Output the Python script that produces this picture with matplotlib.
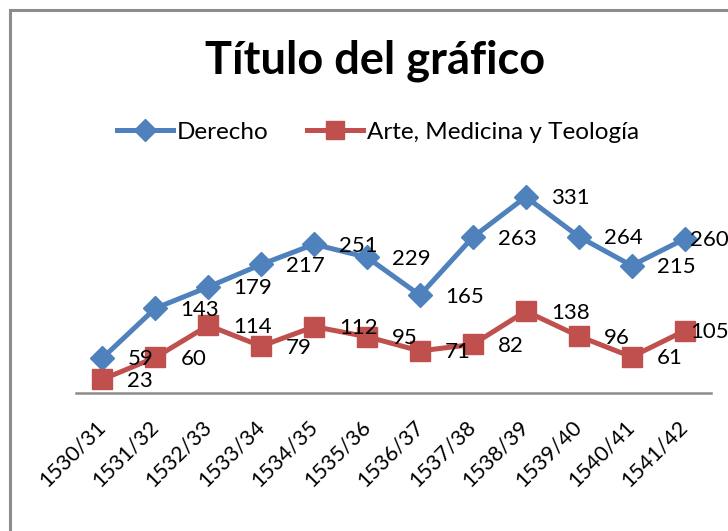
import matplotlib
matplotlib.use("Agg")
import matplotlib.pyplot as plt
from matplotlib.patches import Rectangle

plt.rcParams['font.family'] = ['Lato', 'DejaVu Sans']

categories = ["1530/31", "1531/32", "1532/33", "1533/34", "1534/35", "1535/36",
              "1536/37", "1537/38", "1538/39", "1539/40", "1540/41", "1541/42"]
derecho = [59, 143, 179, 217, 251, 229, 165, 263, 331, 264, 215, 260]
arte = [23, 60, 114, 79, 112, 95, 71, 82, 138, 96, 61, 105]

title = "Título del gráfico"
series_names = ["Derecho", "Arte, Medicina y Teología"]

BLUE = "#4F81BD"
RED = "#C0504D"
GRAY = "#8C8C8C"

W, H = 728, 531
fig = plt.figure(figsize=(W / 100, H / 100), dpi=100)

# chart frame (runs off the right and bottom edges)
fig.patches.append(Rectangle((10 / W, -0.05), 1.2, (H - 10) / H + 0.05,
                             transform=fig.transFigure, fill=False,
                             edgecolor=GRAY, linewidth=2.2, zorder=0))

ax_left, ax_right = 76 / W, 711 / W
ax_bottom = (H - 393) / H
ax_top = (H - 156) / H
ax = fig.add_axes([ax_left, ax_bottom, ax_right - ax_left, ax_top - ax_bottom])
ax.set_facecolor("none")

x = list(range(len(categories)))
l1, = ax.plot(x, derecho, color=BLUE, linewidth=3.6, marker="D",
              markersize=12, markeredgecolor=BLUE, label=series_names[0],
              clip_on=False, zorder=3)
l2, = ax.plot(x, arte, color=RED, linewidth=3.6, marker="s",
              markersize=14, markeredgecolor=RED, label=series_names[1],
              clip_on=False, zorder=3)

ax.set_xlim(-0.5, len(categories) - 0.5)
ax.set_ylim(0, 400)

for spine in ["top", "left", "right"]:
    ax.spines[spine].set_visible(False)
ax.spines["bottom"].set_color(GRAY)
ax.spines["bottom"].set_linewidth(1.8)
ax.set_yticks([])
ax.set_xticks(x)
ax.set_xticklabels(categories, rotation=45, ha="right", va="center",
                   rotation_mode="anchor", fontsize=15.5)
ax.tick_params(axis="x", length=0, pad=22)

# value labels to the right of each marker
for series in (derecho, arte):
    for i, v in enumerate(series):
        dx = 4 if i == len(series) - 1 else 18
        ax.annotate(str(v), (i, v), xytext=(dx, -1), textcoords="offset points",
                    ha="left", va="center", fontsize=16, color="black",
                    annotation_clip=False, zorder=4)

fig.text(375 / W, 1 - 61 / H, title, ha="center", va="center",
         fontsize=32.5, fontweight="bold")

fig.legend(handles=[l1, l2], labels=series_names, loc="center",
           bbox_to_anchor=(378 / W, 1 - 132 / H), ncol=2, frameon=False,
           fontsize=17.5, handlelength=2.3, handletextpad=0.15,
           columnspacing=1.6, markerscale=0.95)

fig.savefig("out.png", dpi=100)
